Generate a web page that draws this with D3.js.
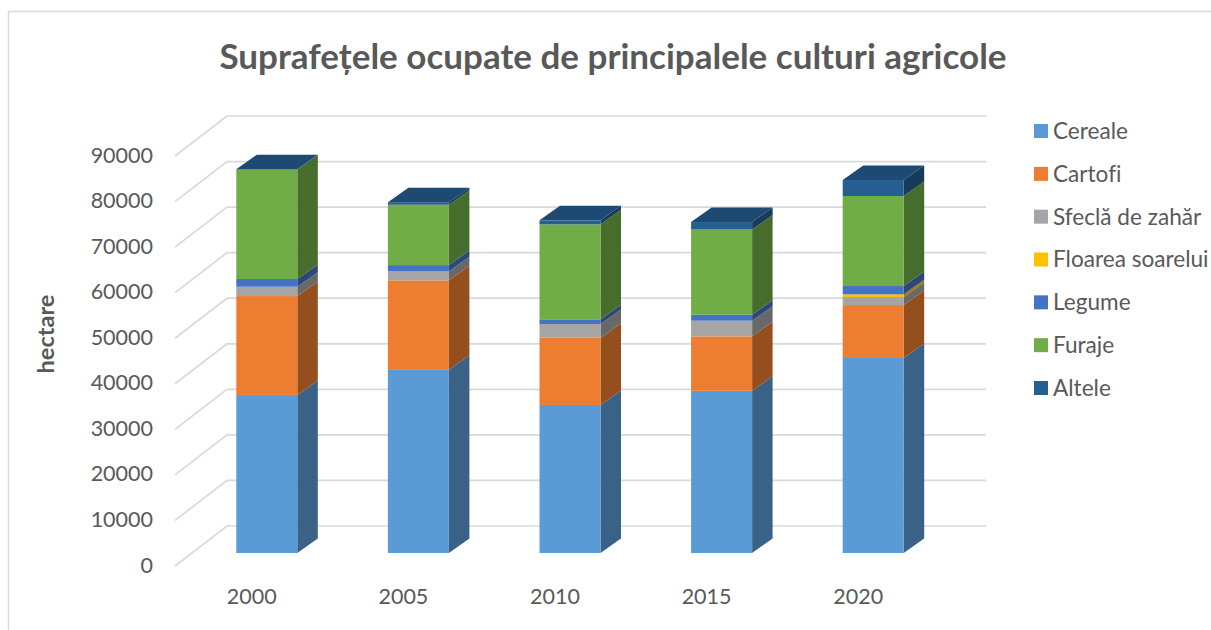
<!DOCTYPE html>
<html><head><meta charset="utf-8">
<script src="https://cdn.jsdelivr.net/npm/d3@7"></script>
<style>html,body{margin:0;padding:0;background:#fff}svg{display:block}text{font-family:Lato,"Open Sans",sans-serif;font-variant-ligatures:none}</style>
</head><body><div id="c"></div>
<script>
const years = ["2000","2005","2010","2015","2020"];
const seriesNames = ["Cereale","Cartofi","Sfeclă de zahăr","Floarea soarelui","Legume","Furaje","Altele"];
const seriesColors = ["#5B9BD5","#ED7D31","#A5A5A5","#FFC000","#4472C4","#70AD47","#255E91"];
const cereale = [34700,40200,32500,35600,42800];
const cartofi = [21700,19650,14760,11960,11630];
const sfecla = [2050,1980,3000,3440,1760];
const floarea = [0,0,0,0,590];
const legume = [1690,1370,1030,1300,1820];
const furaje = [24060,13250,20860,18700,19760];
const altele = [60,550,870,1650,3510];
const yTicks = [0,10000,20000,30000,40000,50000,60000,70000,80000,90000];
const seriesValues = [cereale,cartofi,sfecla,floarea,legume,furaje,altele];

const W=1211,H=630;
const svg=d3.select("#c").append("svg").attr("width",W).attr("height",H);
const depthX=20.5, depthY=-14.5;
const y=d3.scaleLinear().domain([0,90000]).range([553,143]);
const gx=d3.scalePoint().domain(years).range([266.8,873.2]);
const barW=61;
const shade=hex=>{const c=d3.rgb(hex);return d3.rgb(c.r*0.63,c.g*0.63,c.b*0.63).formatHex();};
const grid=svg.append("g");
yTicks.forEach(t=>{
  const yb=y(t)-27;
  grid.append("path").attr("d",`M175,${y(t)+13}L227,${yb}L986,${yb}`).attr("fill","none").attr("stroke","#d9d9d9").attr("stroke-width",1.7);
  svg.append("text").attr("x",153).attr("y",y(t)+12).attr("dy","0.35em").attr("text-anchor","end").attr("font-size",21.5).attr("fill","#595959").text(t);
});
svg.append("path").attr("d","M8.5,630V11.5H1211").attr("fill","none").attr("stroke","#d9d9d9").attr("stroke-width",1.5);
svg.append("text").attr("x",613).attr("y",69).attr("text-anchor","middle").attr("font-size",35).attr("font-weight",700).attr("fill","#595959").text("Suprafețele ocupate de principalele culturi agricole");
svg.append("text").attr("transform","translate(54,334) rotate(-90)").attr("text-anchor","middle").attr("font-size",23.5).attr("font-weight",700).attr("fill","#595959").text("hectare");
years.forEach((yr,i)=>{
  const x0=gx(yr)-barW/2, x1=x0+barW;
  let cum=0;
  const g=svg.append("g");
  seriesValues.forEach((vals,s)=>{
    const v=vals[i]; if(v<=0) return;
    const y0=y(cum), y1=y(cum+v); cum+=v;
    g.append("path").attr("d",`M${x1},${y0}L${x1+depthX},${y0+depthY}L${x1+depthX},${y1+depthY}L${x1},${y1}Z`).attr("fill",shade(seriesColors[s]));
    g.append("rect").attr("x",x0).attr("y",y1).attr("width",barW).attr("height",y0-y1).attr("fill",seriesColors[s]);
  });
  const t=y(cum);
  g.append("path").attr("d",`M${x0},${t}L${x0+depthX},${t+depthY}L${x1+depthX},${t+depthY}L${x1},${t}Z`).attr("fill","#1C4A72");
  svg.append("text").attr("x",gx(yr)-15).attr("y",596).attr("dy","0.35em").attr("text-anchor","middle").attr("font-size",21.5).attr("fill","#595959").text(yr);
});
const legY=d3.scalePoint().domain(seriesNames).range([131,388]);
seriesNames.forEach((n,s)=>{
  svg.append("rect").attr("x",1034).attr("y",legY(n)-7).attr("width",14).attr("height",14).attr("fill",seriesColors[s]);
  svg.append("text").attr("x",1053).attr("y",legY(n)).attr("dy","0.35em").attr("font-size",22.6).attr("fill","#595959").text(n);
});
</script></body></html>
